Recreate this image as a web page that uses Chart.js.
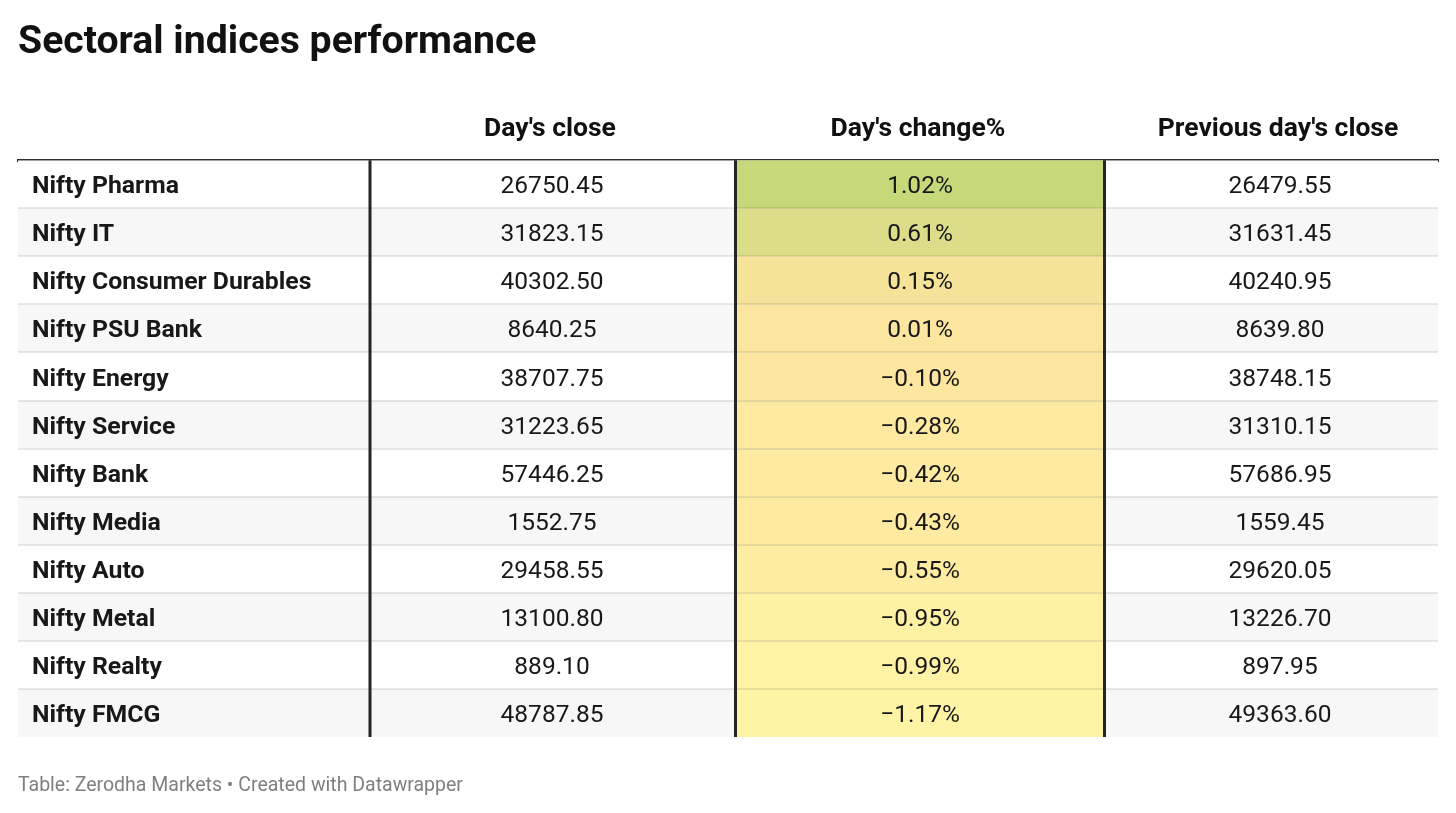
<!DOCTYPE html>
<html>
<head>
<meta charset="utf-8">
<title>Sectoral indices performance</title>
<script src="https://cdn.jsdelivr.net/npm/chart.js@4.4.1/dist/chart.umd.min.js"></script>
<style>
  html, body { margin: 0; padding: 0; background: #fff; }
  #wrap { width: 1456px; height: 813px; }
</style>
</head>
<body>
<div id="wrap"><canvas id="sectorTable"></canvas></div>
<script>
/* --------------- Table data --------------------- */
const indices = [
  "Nifty Pharma", "Nifty IT", "Nifty Consumer Durables", "Nifty PSU Bank",
  "Nifty Energy", "Nifty Service", "Nifty Bank", "Nifty Media",
  "Nifty Auto", "Nifty Metal", "Nifty Realty", "Nifty FMCG"
];
const dayClose = [26750.45, 31823.15, 40302.50, 8640.25, 38707.75, 31223.65,
  57446.25, 1552.75, 29458.55, 13100.80, 889.10, 48787.85];
const changePct = [1.02, 0.61, 0.15, 0.01, -0.10, -0.28,
  -0.42, -0.43, -0.55, -0.95, -0.99, -1.17];
const prevClose = [26479.55, 31631.45, 40240.95, 8639.80, 38748.15, 31310.15,
  57686.95, 1559.45, 29620.05, 13226.70, 897.95, 49363.60];
const headers = ["Day's close", "Day's change%", "Previous day's close"];

/* --------------- Column layout (x scale units = px from table left) --------------------- */
const tableWidth = 1420;
const headerX = [532, 900, 1260];
const valueX = [534, 902, 1262];
const labelX = 14;
const dividerX = [352, 717.5, 1086.5];
const changeCell = [717.5, 1086.5];

/* --------------- Colour scale for the change column --------------------- */
const posColor = [198, 216, 122];
const zeroColor = [253, 229, 158];
const negColor = [255, 244, 166];
const maxUp = Math.max(...changePct);
const maxDown = Math.min(...changePct);
const changeColor = (v) => {
  const to = v >= 0 ? posColor : negColor;
  const t = v >= 0 ? v / maxUp : v / maxDown;
  const c = zeroColor.map((z, k) => Math.round(z + (to[k] - z) * t));
  return `rgb(${c[0]}, ${c[1]}, ${c[2]})`;
};
const fmtChange = (v) => (v < 0 ? "\u2212" : "") + Math.abs(v).toFixed(2) + "%";

/* --------------- Cell text + column dividers --------------------- */
const cellText = {
  id: "cellText",
  afterDraw(chart) {
    const { ctx, chartArea, scales: { x, y } } = chart;
    ctx.save();
    ctx.textBaseline = "alphabetic";
    ctx.fillStyle = "#181818";
    indices.forEach((name, i) => {
      const cy = y.getPixelForValue(i) + 9;
      ctx.font = "bold 24.8px Roboto";
      ctx.textAlign = "left";
      ctx.fillText(name, x.getPixelForValue(labelX), cy);
      ctx.font = "24.5px Roboto";
      ctx.textAlign = "center";
      ctx.fillText(dayClose[i].toFixed(2), x.getPixelForValue(valueX[0]), cy);
      ctx.fillText(fmtChange(changePct[i]), x.getPixelForValue(valueX[1]), cy);
      ctx.fillText(prevClose[i].toFixed(2), x.getPixelForValue(valueX[2]), cy);
    });
    ctx.strokeStyle = "#242424";
    ctx.lineWidth = 3;
    dividerX.forEach((v) => {
      const px = x.getPixelForValue(v);
      ctx.beginPath();
      ctx.moveTo(px, chartArea.top);
      ctx.lineTo(px, chartArea.bottom);
      ctx.stroke();
    });
    ctx.restore();
  },
};

/* --------------- Chart --------------------- */
Chart.defaults.font.family = "Roboto";

new Chart(document.getElementById("sectorTable"), {
  type: "bar",
  plugins: [cellText],
  data: {
    labels: indices,
    datasets: [
      {
        label: "Day's change%",
        data: changePct.map(() => changeCell),
        backgroundColor: changePct.map(changeColor),
        order: 1,
      },
      {
        label: "rows",
        data: indices.map(() => [0, tableWidth]),
        backgroundColor: indices.map((_, i) => (i % 2 ? "#f7f7f7" : "#ffffff")),
        order: 2,
      },
    ],
  },
  options: {
    indexAxis: "y",
    responsive: true,
    maintainAspectRatio: false,
    animation: false,
    events: [],
    layout: { padding: { left: 18, right: 18, top: 0, bottom: 0 } },
    datasets: {
      bar: {
        grouped: false,
        barPercentage: 1,
        categoryPercentage: 1,
        borderWidth: 0,
        inflateAmount: 0,
      },
    },
    scales: {
      x: {
        type: "linear",
        position: "top",
        min: 0,
        max: tableWidth,
        grid: { display: false, drawTicks: false },
        border: { display: true, color: "#2e2e2e", width: 3 },
        afterBuildTicks: (axis) => {
          axis.ticks = headerX.map((v) => ({ value: v }));
        },
        ticks: {
          autoSkip: false,
          maxRotation: 0,
          padding: 14.5,
          color: "#111111",
          font: { size: 26.5, weight: "bold" },
          callback: (v, i) => headers[i],
        },
      },
      y: {
        type: "category",
        grid: {
          offset: true,
          drawTicks: false,
          lineWidth: 2,
          z: 1,
          color: (c) => (c.type !== "tick" || c.index === 0 ? "rgba(0,0,0,0)" : "rgba(0,0,0,0.09)"),
        },
        border: { display: false },
        ticks: { display: false },
      },
    },
    plugins: {
      legend: { display: false },
      tooltip: { enabled: false },
      title: {
        display: true,
        text: "Sectoral indices performance",
        align: "start",
        color: "#111111",
        font: { size: 39.2, weight: "bold" },
        padding: { top: 19.4, bottom: 33 },
      },
      subtitle: {
        display: true,
        position: "bottom",
        text: "Table: Zerodha Markets \u2022 Created with Datawrapper",
        align: "start",
        color: "#7f7f7f",
        font: { size: 19.5 },
        padding: { top: 37.3, bottom: 15.3 },
      },
    },
  },
});
</script>
</body>
</html>
